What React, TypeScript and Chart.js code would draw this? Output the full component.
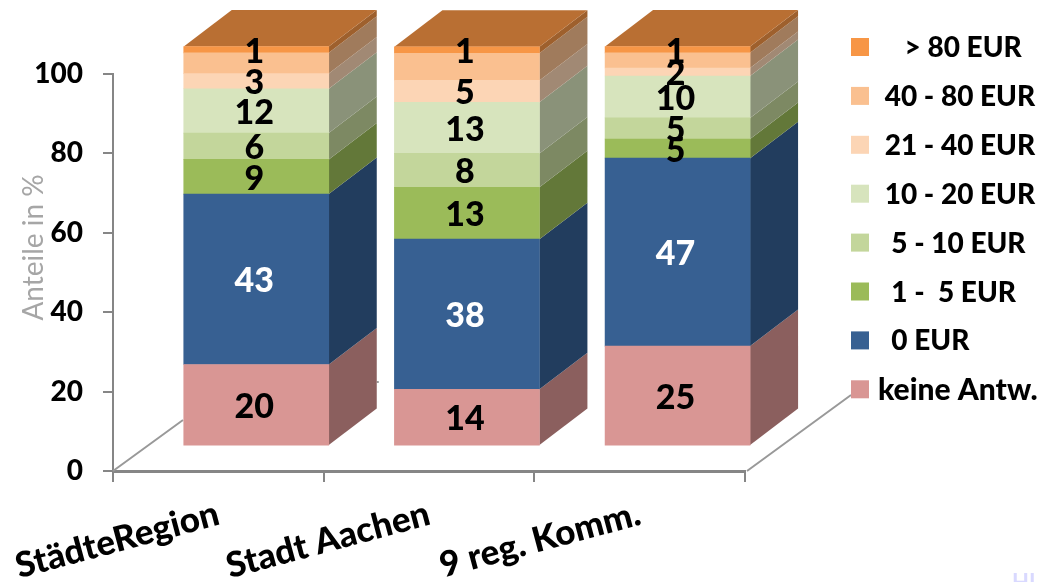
import React, { useEffect, useRef } from "react";
import { Chart, registerables } from "chart.js";

Chart.register(...registerables);

const categories = ["StädteRegion", "Stadt Aachen", "9 reg. Komm."];
const seriesNames = ["keine Antw.", "  0 EUR", "  1 -  5 EUR", "  5 - 10 EUR", " 10 - 20 EUR", " 21 - 40 EUR", " 40 - 80 EUR", "    > 80 EUR"];

const keineAntw = [20.2, 14.0, 24.8];
const eur0 = [42.7, 37.6, 47.1];
const eur1to5 = [8.7, 13.0, 4.8];
const eur5to10 = [6.6, 8.5, 5.3];
const eur10to20 = [11.1, 12.8, 10.5];
const eur21to40 = [3.8, 5.5, 2.0];
const eur40to80 = [5.2, 6.8, 3.8];
const eurOver80 = [1.6, 1.6, 1.6];
const seriesValues = [keineAntw, eur0, eur1to5, eur5to10, eur10to20, eur21to40, eur40to80, eurOver80];

const labelsKeine = ["20", "14", "25"];
const labels0 = ["43", "38", "47"];
const labels1to5 = ["9", "13", "5"];
const labels5to10 = ["6", "8", "5"];
const labels10to20 = ["12", "13", "10"];
const labels21to40 = ["3", "5", "2"];
const labels40to80 = ["", "", ""];
const labelsOver80 = ["1", "1", "1"];
const seriesLabels = [labelsKeine, labels0, labels1to5, labels5to10, labels10to20, labels21to40, labels40to80, labelsOver80];

const frontColors = ["#D99694", "#376092", "#9BBB59", "#C3D69B", "#D7E4BD", "#FCD5B5", "#FAC090", "#F79646"];
const sideColors = ["#8B5F5E", "#223D5E", "#637839", "#7D8963", "#8A9279", "#A18974", "#A07B5C", "#9E602D"];
const topColor = "#B96F33";
const axisGray = "#868686";
const fontFamily = "Lato, Carlito, sans-serif";
const depthX = 48;
const depthY = -36.5;

const depthPlugin = {
  id: "depth",
  beforeDatasetsDraw(chart: any) {
    const ctx = chart.ctx;
    const area = chart.chartArea;
    ctx.save();
    // perspective floor edges
    ctx.strokeStyle = "#999999";
    ctx.lineWidth = 2;
    ctx.beginPath();
    ctx.moveTo(area.left, area.bottom);
    ctx.lineTo(area.left + 70, area.bottom - 51);
    ctx.moveTo(area.right + 2, area.bottom);
    ctx.lineTo(area.right + 106, area.bottom - 76);
    const firstBar = chart.getDatasetMeta(0).data[0];
    ctx.moveTo(firstBar.x + firstBar.width / 2 + depthX, area.bottom - 89);
    ctx.lineTo(firstBar.x + firstBar.width / 2 + depthX + 2, area.bottom - 89);
    ctx.stroke();
    chart.data.datasets.forEach((ds: any, di: number) => {
      const meta = chart.getDatasetMeta(di);
      meta.data.forEach((el: any) => {
        const r = el.x + el.width / 2;
        const l = el.x - el.width / 2;
        ctx.fillStyle = sideColors[di];
        ctx.beginPath();
        ctx.moveTo(r, el.y);
        ctx.lineTo(r + depthX, el.y + depthY);
        ctx.lineTo(r + depthX, el.base + depthY);
        ctx.lineTo(r, el.base);
        ctx.closePath();
        ctx.fill();
        if (di === chart.data.datasets.length - 1) {
          ctx.fillStyle = topColor;
          ctx.beginPath();
          ctx.moveTo(l, el.y);
          ctx.lineTo(l + depthX, el.y + depthY);
          ctx.lineTo(r + depthX, el.y + depthY);
          ctx.lineTo(r, el.y);
          ctx.closePath();
          ctx.fill();
        }
      });
    });
    ctx.restore();
  },
  afterDatasetsDraw(chart: any) {
    const ctx = chart.ctx;
    ctx.save();
    ctx.font = `900 34px ${fontFamily}`;
    ctx.textAlign = "center";
    ctx.textBaseline = "middle";
    chart.data.datasets.forEach((ds: any, di: number) => {
      const meta = chart.getDatasetMeta(di);
      meta.data.forEach((el: any, i: number) => {
        ctx.fillStyle = di === 1 ? "#FFFFFF" : "#000000";
        ctx.fillText(seriesLabels[di][i], el.x - 2, (el.y + el.base) / 2 + 2);
      });
    });
    ctx.restore();
  },
  afterDraw(chart: any) {
    const ctx = chart.ctx;
    const legendLeft = chart.chartArea.right + 106;
    ctx.save();
    ctx.textBaseline = "middle";
    ctx.textAlign = "left";
    const count = chart.data.datasets.length;
    chart.data.datasets.forEach((ds: any, di: number) => {
      const cy = 47 + (count - 1 - di) * 48.9;
      ctx.fillStyle = frontColors[di];
      ctx.fillRect(legendLeft, cy - 9, 18, 18);
      ctx.fillStyle = "#000000";
      ctx.font = `900 ${di === 0 ? 30 : 28}px ${fontFamily}`;
      ctx.fillText(ds.label, legendLeft + 27, cy + 1);
    });
    // faint mark in the lower corner
    ctx.fillStyle = "#D9D9FF";
    ctx.font = `bold 22px ${fontFamily}`;
    ctx.textBaseline = "alphabetic";
    ctx.fillText("HI", 1012, 590);
    ctx.restore();
  },
};

export default function App() {
  const ref = useRef<HTMLCanvasElement | null>(null);
  useEffect(() => {
    const chart = new Chart(ref.current as HTMLCanvasElement, {
      type: "bar",
      data: {
        labels: categories,
        datasets: seriesNames.map((name, di) => ({
          label: name,
          data: seriesValues[di].map((v, i) => ({ x: i, y: v })),
          backgroundColor: frontColors[di],
          xAxisID: "xFront",
          yAxisID: "yFront",
          barThickness: 145,
          clip: false,
        })),
      } as any,
      options: {
        responsive: false,
        animation: false,
        layout: { padding: { left: 0, right: 294, top: 74, bottom: 0 } },
        plugins: { legend: { display: false }, tooltip: { enabled: false } },
        scales: {
          x: {
            type: "category",
            labels: categories,
            offset: true,
            afterFit: (s: any) => { s.height = 111; s.paddingLeft = 0; s.paddingRight = 0; },
            border: { display: true, color: axisGray, width: 3 },
            grid: { offset: true, drawOnChartArea: false, drawTicks: true, tickLength: 11, color: axisGray, lineWidth: 2 },
            ticks: { autoSkip: false, minRotation: 15, maxRotation: 15, color: "#000", padding: 11, font: { family: fontFamily, size: 35, weight: "900" } },
          },
          y: {
            type: "linear",
            min: 0,
            max: 100,
            position: "left",
            afterFit: (s: any) => { s.width = 113; s.paddingTop = 0; s.paddingBottom = 0; },
            border: { display: true, color: axisGray, width: 2 },
            grid: { drawOnChartArea: false, tickLength: 10, color: axisGray, lineWidth: 2 },
            ticks: { stepSize: 20, color: "#000", padding: 20, font: { family: fontFamily, size: 28, weight: "900" } },
            title: { display: true, text: "       Anteile in %", color: "#A6A6A6", padding: { top: 17, bottom: 0 }, font: { family: fontFamily, size: 28, weight: "normal" } },
          },
          xFront: {
            type: "linear",
            axis: "x",
            display: false,
            stacked: true,
            offset: false,
            min: -0.5 - 0.18,
            max: 2.5 - 0.18,
            grid: { offset: false },
          },
          yFront: {
            type: "linear",
            axis: "y",
            display: false,
            stacked: true,
            min: -6.5,
            max: 93.0,
          },
        },
      } as any,
      plugins: [depthPlugin],
    });
    return () => chart.destroy();
  }, []);
  return (
    <div style={{ position: "fixed", left: 0, top: 0, width: 1039, height: 582, overflow: "hidden", background: "#fff" }}>
      <canvas ref={ref} width={1039} height={582} style={{ display: "block" }} />
    </div>
  );
}
